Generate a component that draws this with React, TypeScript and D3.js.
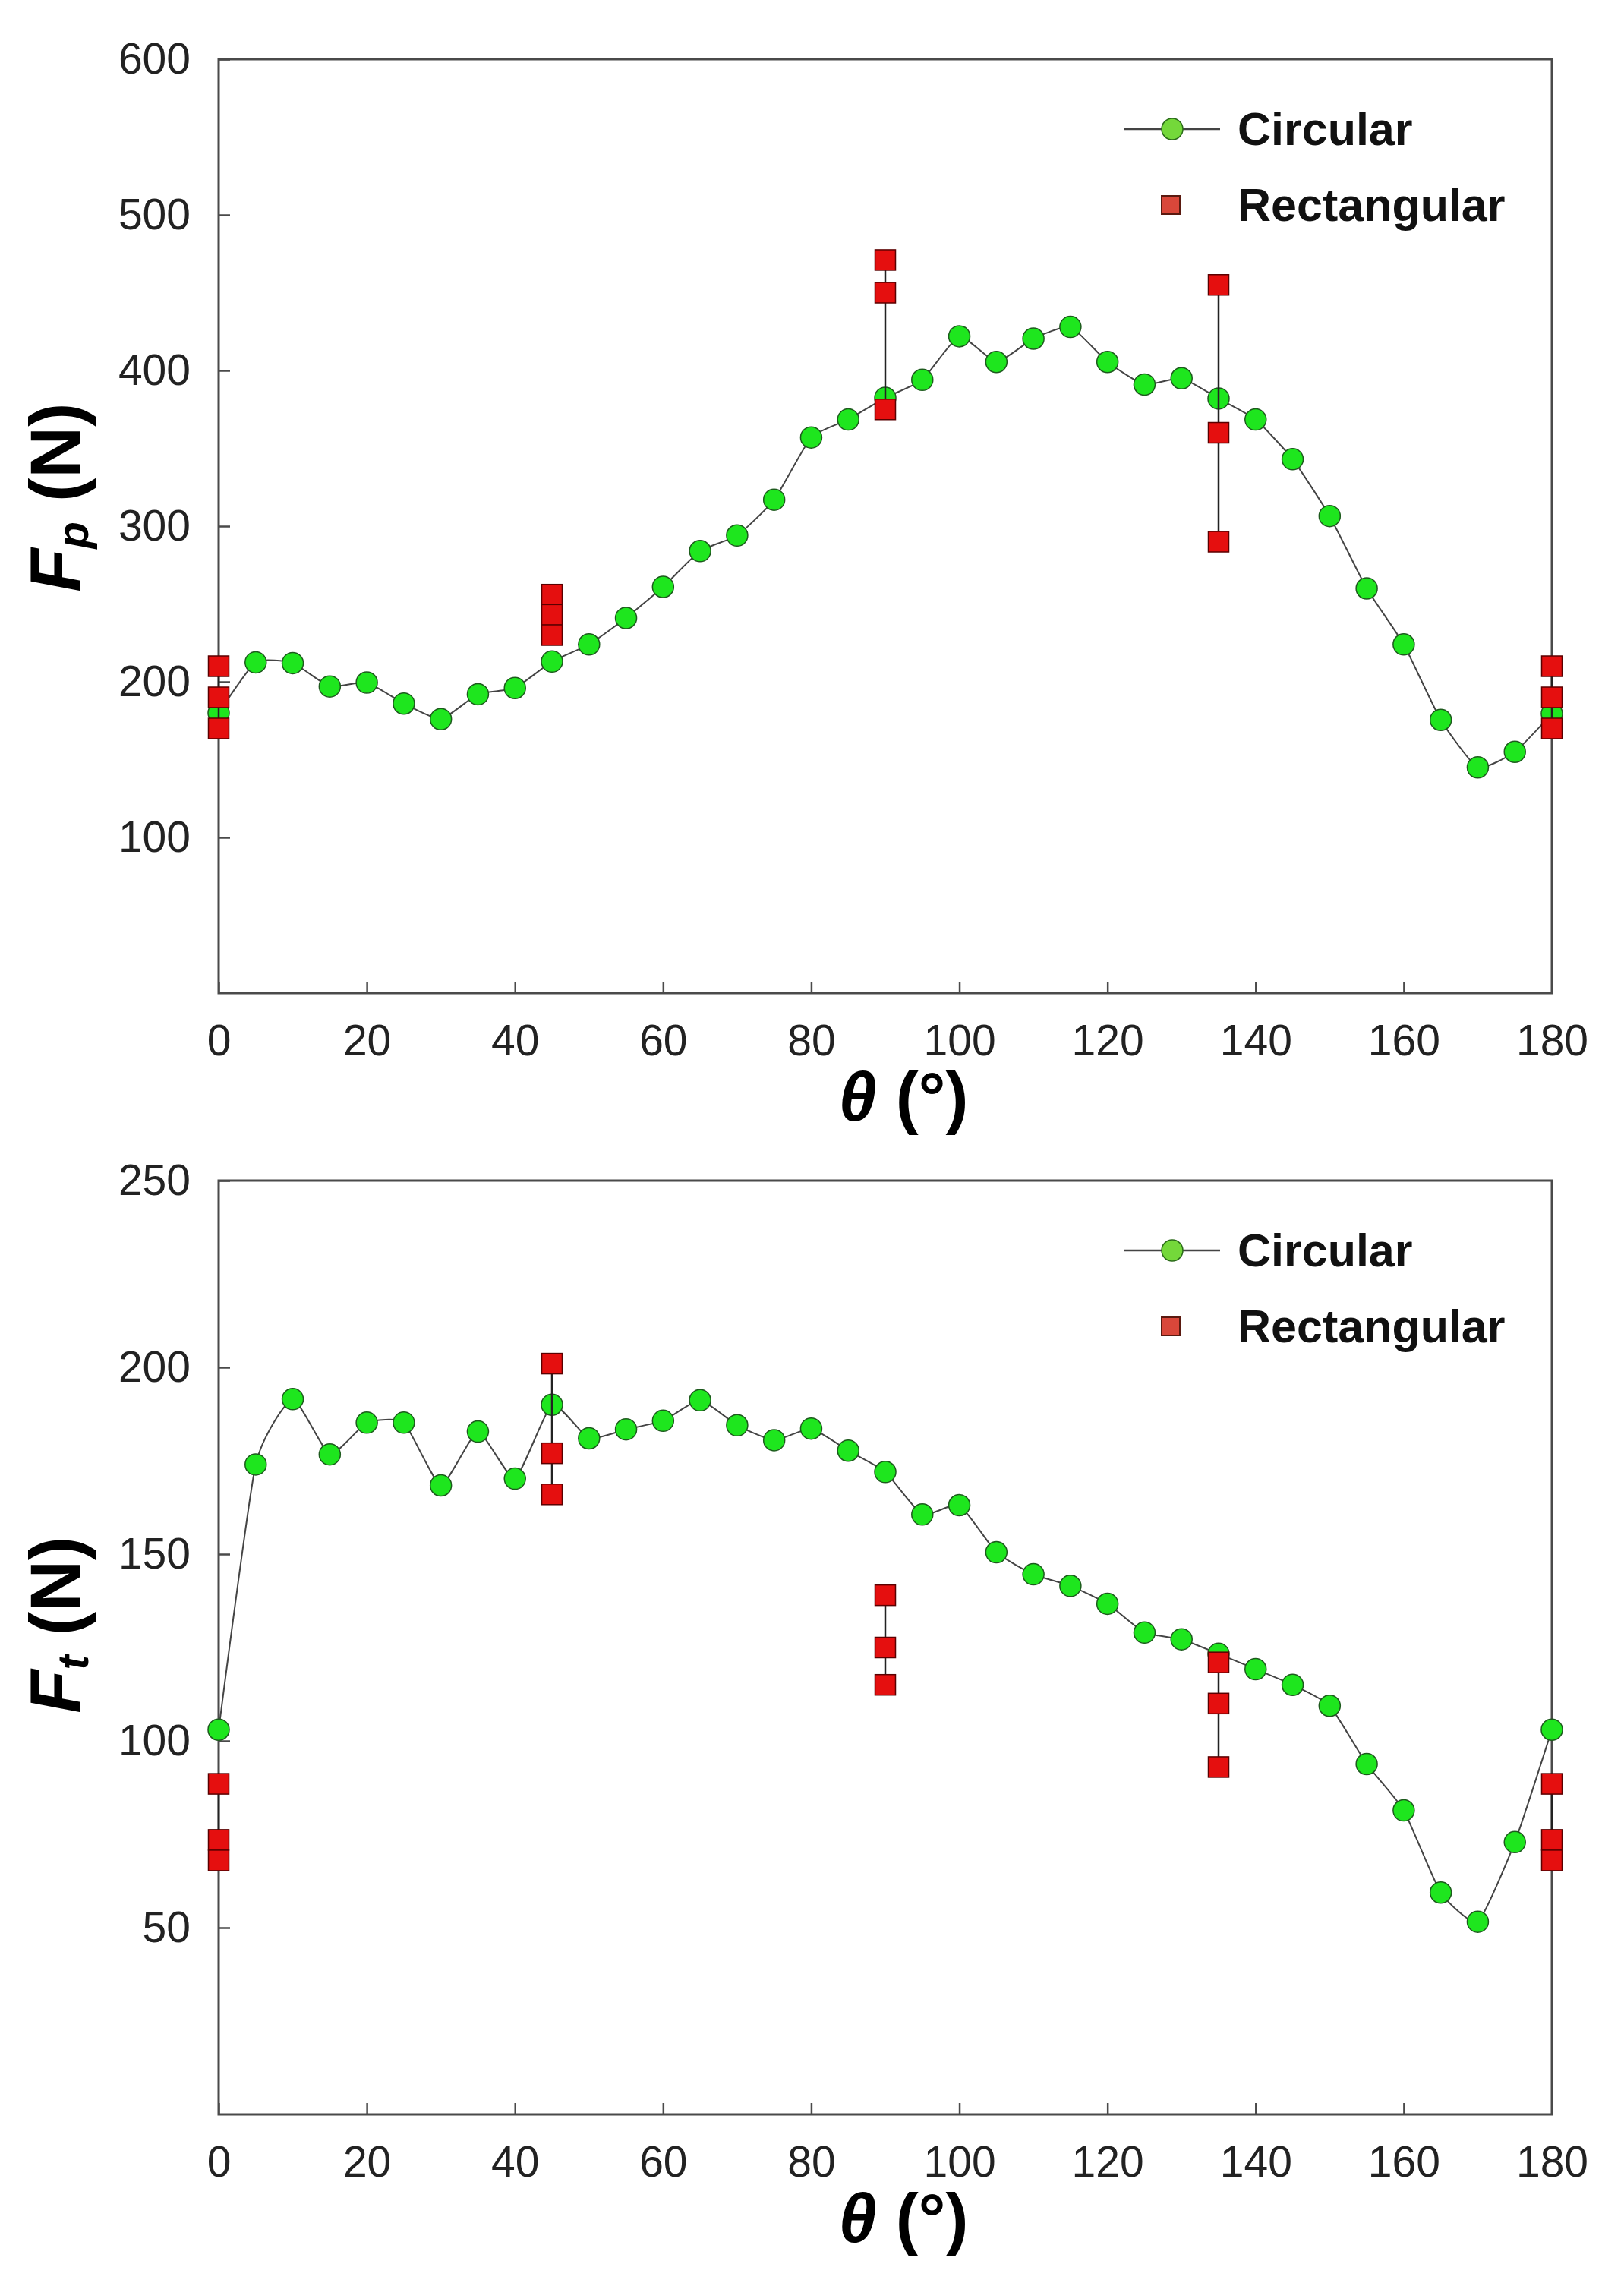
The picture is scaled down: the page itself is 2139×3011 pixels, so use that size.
import { useEffect, useRef } from "react"
import * as d3 from "d3"

// Angle positions (°)
const theta = [
  0, 5, 10, 15, 20, 25, 30, 35, 40, 45, 50, 55, 60, 65, 70, 75, 80, 85, 90,
  95, 100, 105, 110, 115, 120, 125, 130, 135, 140, 145, 150, 155, 160, 165,
  170, 175, 180,
]

// Circular tool, Fp (N)
const fpCircular = [
  180, 212.5, 212, 197, 199.5, 186, 176, 192, 196, 213, 224, 241, 261, 284,
  294, 317, 357, 368.5, 382.5, 394, 422, 405.5, 420.5, 428, 405.5, 391, 395,
  382, 368.5, 343, 306.5, 260, 224, 175.5, 145, 155, 179.5,
]

// Circular tool, Ft (N)
const ftCircular = [
  103, 174, 191.5, 176.7, 185.2, 185.2, 168.4, 182.8, 170.2, 190, 181, 183.4,
  185.7, 191.2, 184.5, 180.5, 183.6, 177.7, 172, 160.6, 163.1, 150.5, 144.6,
  141.5, 136.7, 129, 127.2, 123.3, 119.2, 115, 109.4, 93.8, 81.4, 59.4, 51.6,
  72.9, 103,
]

// Rectangular tool, three measurements per angle
const rectTheta = [0, 45, 90, 135, 180]
const fpRect = [
  [210, 190, 170],
  [256, 243, 230],
  [471, 450, 375],
  [455, 360, 290],
  [210, 190, 170],
]
const ftRect = [
  [88.5, 73.5, 68],
  [201, 177, 166],
  [139, 125, 115],
  [121, 110, 93],
  [88.5, 73.5, 68],
]

const xTicks = [0, 20, 40, 60, 80, 100, 120, 140, 160, 180]
const fpTicks = [100, 200, 300, 400, 500, 600]
const ftTicks = [50, 100, 150, 200, 250]

const FONT = "'Liberation Sans', Arial, sans-serif"
const W = 2139
const H = 3011
const LEFT = 288
const RIGHT = 2044
const PLOT_H = 1230

type Panel = {
  top: number
  yMax: number
  ticks: number[]
  circ: number[]
  rect: number[][]
  sub: string
}

const panels: Panel[] = [
  { top: 78, yMax: 600, ticks: fpTicks, circ: fpCircular, rect: fpRect, sub: "p" },
  { top: 1555, yMax: 250, ticks: ftTicks, circ: ftCircular, rect: ftRect, sub: "t" },
]

function drawPanel(svg: d3.Selection<SVGSVGElement, unknown, null, undefined>, p: Panel) {
  const bottom = p.top + PLOT_H
  const x = d3.scaleLinear().domain([0, 180]).range([LEFT, RIGHT])
  const y = d3.scaleLinear().domain([0, p.yMax]).range([bottom, p.top])
  const g = svg.append("g")

  // Y axis (ticks inside)
  const ya = g
    .append("g")
    .attr("transform", `translate(${LEFT},0)`)
    .call(d3.axisLeft(y).tickValues(p.ticks).tickSizeInner(-15).tickSizeOuter(0).tickPadding(37))
  ya.attr("font-size", 57).attr("font-family", FONT)
  ya.select(".domain").remove()
  ya.selectAll("line").attr("stroke", "#4a4a4a").attr("stroke-width", 2.5)
  ya.selectAll("text").attr("fill", "#222")

  // X axis
  const xa = g
    .append("g")
    .attr("transform", `translate(0,${bottom})`)
    .call(d3.axisBottom(x).tickValues(xTicks).tickSizeInner(-15).tickSizeOuter(0).tickPadding(42))
  xa.attr("font-size", 57).attr("font-family", FONT)
  xa.select(".domain").remove()
  xa.selectAll("line").attr("stroke", "#4a4a4a").attr("stroke-width", 2.5)
  xa.selectAll("text").attr("fill", "#222")

  // Frame
  g.append("rect")
    .attr("x", LEFT)
    .attr("y", p.top)
    .attr("width", RIGHT - LEFT)
    .attr("height", PLOT_H)
    .attr("fill", "none")
    .attr("stroke", "#4a4a4a")
    .attr("stroke-width", 3)

  // Circular line
  const line = d3
    .line<number>()
    .x((_, i) => x(theta[i]))
    .y((d) => y(d))
    .curve(d3.curveCardinal.tension(0.5))

  g.append("path")
    .datum(p.circ)
    .attr("fill", "none")
    .attr("stroke", "#444")
    .attr("stroke-width", 2)
    .attr("d", line)

  g.selectAll(".circ")
    .data(p.circ)
    .enter()
    .append("circle")
    .attr("class", "circ")
    .attr("cx", (_, i) => x(theta[i]))
    .attr("cy", (d) => y(d))
    .attr("r", 14)
    .attr("fill", "#1ee61e")
    .attr("stroke", "#1d5a1d")
    .attr("stroke-width", 1.5)

  // Rectangular: range bars + squares
  p.rect.forEach((vals, i) => {
    g.append("line")
      .attr("x1", x(rectTheta[i]))
      .attr("x2", x(rectTheta[i]))
      .attr("y1", y(d3.min(vals) as number))
      .attr("y2", y(d3.max(vals) as number))
      .attr("stroke", "#222")
      .attr("stroke-width", 2.5)
    g.selectAll(`.sq-${i}`)
      .data(vals)
      .enter()
      .append("rect")
      .attr("class", `sq-${i}`)
      .attr("x", x(rectTheta[i]) - 13.5)
      .attr("y", (d) => y(d) - 13.5)
      .attr("width", 27)
      .attr("height", 27)
      .attr("fill", "#e50f0f")
      .attr("stroke", "#5a0000")
      .attr("stroke-width", 1.5)
  })

  // Legend
  g.append("line")
    .attr("x1", RIGHT - 563)
    .attr("x2", RIGHT - 437)
    .attr("y1", p.top + 92)
    .attr("y2", p.top + 92)
    .attr("stroke", "#444")
    .attr("stroke-width", 2.5)
  g.append("circle")
    .attr("cx", RIGHT - 500)
    .attr("cy", p.top + 92)
    .attr("r", 14)
    .attr("fill", "#74d83a")
    .attr("stroke", "#2b6b1a")
    .attr("stroke-width", 1.5)
  g.append("rect")
    .attr("x", RIGHT - 514)
    .attr("y", p.top + 180)
    .attr("width", 24)
    .attr("height", 24)
    .attr("fill", "#d9473a")
    .attr("stroke", "#5a1a10")
    .attr("stroke-width", 2)
  g.selectAll(".leg")
    .data(["Circular", "Rectangular"])
    .enter()
    .append("text")
    .attr("x", RIGHT - 414)
    .attr("y", (_, i) => p.top + (i === 0 ? 113 : 213))
    .attr("font-family", FONT)
    .attr("font-weight", "bold")
    .attr("font-size", 61)
    .attr("fill", "#111")
    .text((d) => d)

  // X title
  const xt = g
    .append("text")
    .attr("x", 1190)
    .attr("y", bottom + 168)
    .attr("text-anchor", "middle")
    .attr("font-family", FONT)
    .attr("font-weight", "bold")
    .attr("font-size", 90)
    .attr("fill", "#000")
  xt.append("tspan").attr("font-style", "italic").text("θ")
  xt.append("tspan").text(" (°)")

  // Y title
  const yt = g
    .append("text")
    .attr("transform", "rotate(-90)")
    .attr("x", -(p.top + 702))
    .attr("y", 106)
    .attr("text-anchor", "start")
    .attr("font-family", FONT)
    .attr("font-weight", "bold")
    .attr("font-size", 94)
    .attr("fill", "#000")
  yt.append("tspan").attr("font-style", "italic").text("F")
  yt.append("tspan").attr("font-style", "italic").attr("font-size", 58).attr("dy", 10).text(p.sub)
  yt.append("tspan").attr("dy", -10).text(" (N)")
}

export default function App() {
  const svgRef = useRef<SVGSVGElement>(null)

  useEffect(() => {
    if (!svgRef.current) return
    const svg = d3.select(svgRef.current)
    svg.selectAll("*").remove()
    svg.append("rect").attr("width", W).attr("height", H).attr("fill", "#fff")
    panels.forEach((p) => drawPanel(svg, p))
  }, [])

  return (
    <svg
      ref={svgRef}
      width={W}
      height={H}
      viewBox={`0 0 ${W} ${H}`}
      style={{ position: "absolute", left: 0, top: 0, display: "block" }}
    />
  )
}
